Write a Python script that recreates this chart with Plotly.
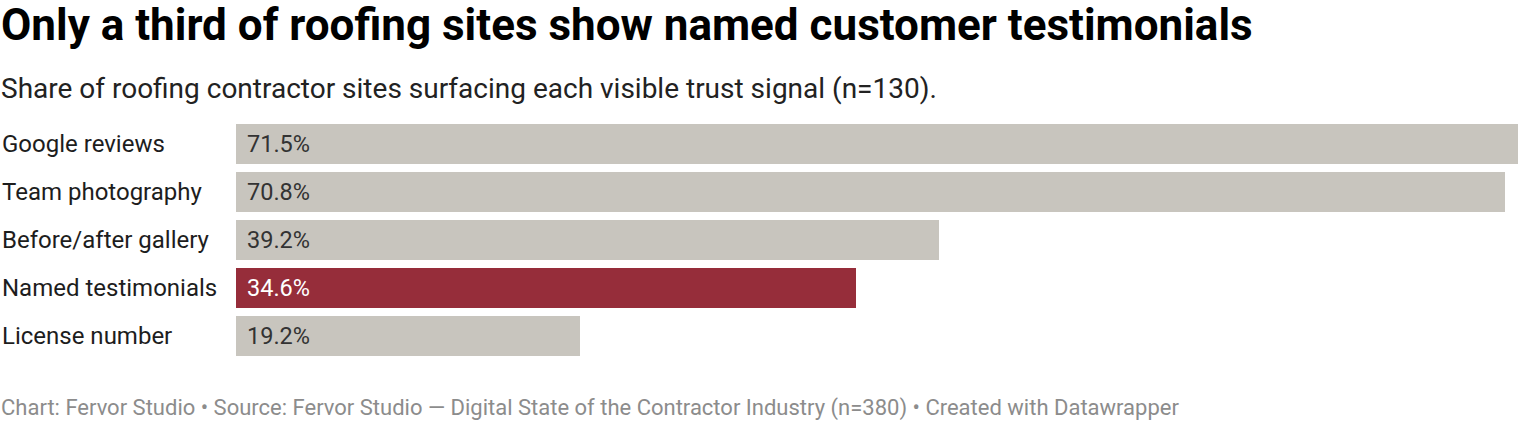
import plotly.graph_objects as go

# Data
signals = ['Google reviews', 'Team photography', 'Before/after gallery',
           'Named testimonials', 'License number']
shares = [71.5, 70.8, 39.2, 34.6, 19.2]
highlight = 'Named testimonials'

title = 'Only a third of roofing sites show named customer testimonials'
subtitle = 'Share of roofing contractor sites surfacing each visible trust signal (n=130).'
footer = ('Chart: Fervor Studio \u2022 Source: Fervor Studio \u2014 Digital State of the '
          'Contractor Industry (n=380) \u2022 Created with Datawrapper')

W, H = 1520, 422
L, R, T, B = 236, 2, 120, 62
plot_w = W - L - R
plot_h = H - T - B

GREY = '#c8c5be'
RED = '#962d3a'
FONT = 'Roboto'


def py(y):
    # pixel y from top -> paper coordinate
    return (H - B - y) / plot_h


def px(x):
    return (x - L) / plot_w


colors = [RED if s == highlight else GREY for s in signals]

fig = go.Figure()
fig.add_trace(go.Bar(
    x=shares, y=signals, orientation='h',
    marker=dict(color=colors, line=dict(width=0)),
    width=40 / 48,
    hoverinfo='skip',
))

annotations = []
for s, v in zip(signals, shares):
    annotations.append(dict(
        xref='paper', yref='y', x=px(0), y=s, xanchor='left', yanchor='middle',
        text=s, showarrow=False,
        font=dict(family=FONT, size=24, color='#1d1d1d')))
    annotations.append(dict(
        xref='x', yref='y', x=0, y=s, xanchor='left', yanchor='middle',
        xshift=9, text=f'{v:.1f}%', showarrow=False,
        font=dict(family=FONT, size=23.5,
                  color='white' if s == highlight else '#333333')))

annotations.append(dict(
    xref='paper', yref='paper', x=px(-1), y=py(25), xanchor='left', yanchor='middle',
    text='<b>' + title + '</b>', showarrow=False,
    font=dict(family=FONT, size=44, color='#000000')))
annotations.append(dict(
    xref='paper', yref='paper', x=px(-1), y=py(88), xanchor='left', yanchor='middle',
    text=subtitle, showarrow=False,
    font=dict(family=FONT, size=28, color='#222222')))
annotations.append(dict(
    xref='paper', yref='paper', x=px(-1), y=py(408), xanchor='left', yanchor='middle',
    text=footer, showarrow=False,
    font=dict(family=FONT, size=22, color='#8c8c8c')))

fig.update_layout(
    width=W, height=H,
    margin=dict(l=L, r=R, t=T, b=B, autoexpand=False),
    plot_bgcolor='white',
    paper_bgcolor='white',
    showlegend=False,
    bargap=0,
    xaxis=dict(range=[0, max(shares)], visible=False, fixedrange=True),
    yaxis=dict(categoryorder='array', categoryarray=signals[::-1],
               range=[-0.5, len(signals) - 0.5],
               visible=False, fixedrange=True),
    annotations=annotations,
)

# drop the default 8px body margin so the chart sits flush in the window
fig.write_html('out.html', config={'displayModeBar': False},
               post_script="document.body.style.margin='0';")
